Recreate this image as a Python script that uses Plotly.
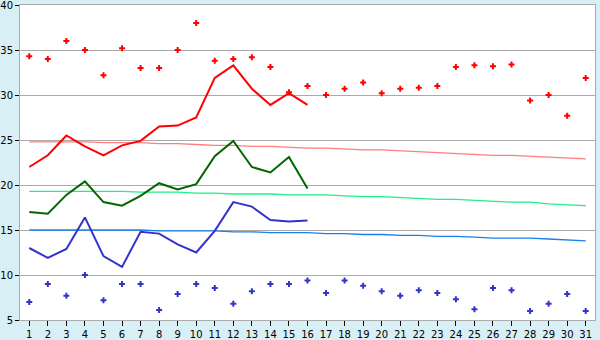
import plotly.graph_objects as go

days = list(range(1, 32))
day_labels = [str(d) for d in days]

rec_max = [34.3, 34.0, 36.0, 35.0, 32.2, 35.2, 33.0, 33.0, 35.0, 38.0,
           33.8, 34.0, 34.2, 33.1, 30.3, 31.0, 30.0, 30.7, 31.4, 30.2,
           30.7, 30.8, 31.0, 33.1, 33.3, 33.2, 33.4, 29.4, 30.0, 27.7, 31.9]
rec_min = [7.0, 9.0, 7.7, 10.0, 7.2, 9.0, 9.0, 6.1, 7.9, 9.0,
           8.55, 6.8, 8.2, 9.0, 9.0, 9.4, 8.0, 9.4, 8.8, 8.2,
           7.7, 8.3, 8.0, 7.3, 6.2, 8.55, 8.3, 6.0, 6.8, 7.9, 6.0]

cur_days = list(range(1, 17))
cur_max = [22.0, 23.3, 25.5, 24.3, 23.3, 24.4, 24.9, 26.5, 26.6, 27.5,
           31.9, 33.3, 30.7, 28.9, 30.2, 28.9]
cur_mean = [17.0, 16.8, 18.9, 20.4, 18.1, 17.7, 18.8, 20.2, 19.5, 20.1,
            23.2, 24.9, 22.0, 21.4, 23.1, 19.6]
cur_min = [13.0, 11.9, 12.9, 16.4, 12.1, 10.9, 14.8, 14.6, 13.4, 12.5,
           14.9, 18.1, 17.6, 16.1, 15.95, 16.05]

norm_max = [24.8, 24.8, 24.8, 24.8, 24.7, 24.7, 24.7, 24.6, 24.6, 24.5,
            24.4, 24.4, 24.3, 24.3, 24.2, 24.1, 24.1, 24.0, 23.9, 23.9,
            23.8, 23.7, 23.6, 23.5, 23.4, 23.3, 23.3, 23.2, 23.1, 23.0, 22.9]
norm_mean = [19.3, 19.3, 19.3, 19.3, 19.3, 19.3, 19.2, 19.2, 19.2, 19.1,
             19.1, 19.0, 19.0, 19.0, 18.9, 18.9, 18.9, 18.8, 18.7, 18.7,
             18.6, 18.5, 18.4, 18.4, 18.3, 18.2, 18.1, 18.1, 17.9, 17.8, 17.7]
norm_min = [15.0, 15.0, 15.0, 15.0, 15.0, 15.0, 15.0, 14.9, 14.9, 14.9,
            14.9, 14.8, 14.8, 14.7, 14.7, 14.7, 14.6, 14.6, 14.5, 14.5,
            14.4, 14.4, 14.3, 14.3, 14.2, 14.1, 14.1, 14.1, 14.0, 13.9, 13.8]

fig = go.Figure()

fig.add_trace(go.Scatter(x=days, y=norm_max, mode="lines",
                         line=dict(color="#FF7F7F", width=1.3)))
fig.add_trace(go.Scatter(x=days, y=norm_mean, mode="lines",
                         line=dict(color="#22EE88", width=1.3)))
fig.add_trace(go.Scatter(x=days, y=norm_min, mode="lines",
                         line=dict(color="#1A7FEE", width=1.3)))

fig.add_trace(go.Scatter(x=cur_days, y=cur_max, mode="lines",
                         line=dict(color="#FF0000", width=2)))
fig.add_trace(go.Scatter(x=cur_days, y=cur_mean, mode="lines",
                         line=dict(color="#006600", width=2)))
fig.add_trace(go.Scatter(x=cur_days, y=cur_min, mode="lines",
                         line=dict(color="#3333CC", width=2)))

fig.add_trace(go.Scatter(x=days, y=rec_max, mode="markers",
                         marker=dict(symbol="cross", size=5, color="#FF0000",
                                     line=dict(width=0))))
fig.add_trace(go.Scatter(x=days, y=rec_min, mode="markers",
                         marker=dict(symbol="cross", size=5, color="#3333CC",
                                     line=dict(width=0))))

fig.update_layout(
    width=600, height=340,
    margin=dict(l=20, r=5, t=5, b=20, autoexpand=False),
    paper_bgcolor="#D9EFF6",
    plot_bgcolor="#FFFFFF",
    showlegend=False,
    font=dict(family="DejaVu Sans, Verdana, sans-serif", size=10, color="#000000"),
)
fig.update_xaxes(
    range=[0.5, 31.5], automargin=False,
    tickmode="array", tickvals=days, ticktext=day_labels,
    showgrid=False, zeroline=False,
    showline=True, linecolor="#AAAAAA", linewidth=1, mirror=True,
    ticks="outside", ticklen=5, tickcolor="#000000",
    tickfont=dict(size=10),
)
fig.update_yaxes(
    range=[5, 40], dtick=5, automargin=False,
    showgrid=True, gridcolor="#AAAAAA", gridwidth=1, zeroline=False,
    showline=True, linecolor="#AAAAAA", linewidth=1, mirror=True,
    ticks="outside", ticklen=4, tickcolor="#000000",
    tickfont=dict(size=10), ticklabeloverflow="allow",
)

fig.write_html("out.html")
